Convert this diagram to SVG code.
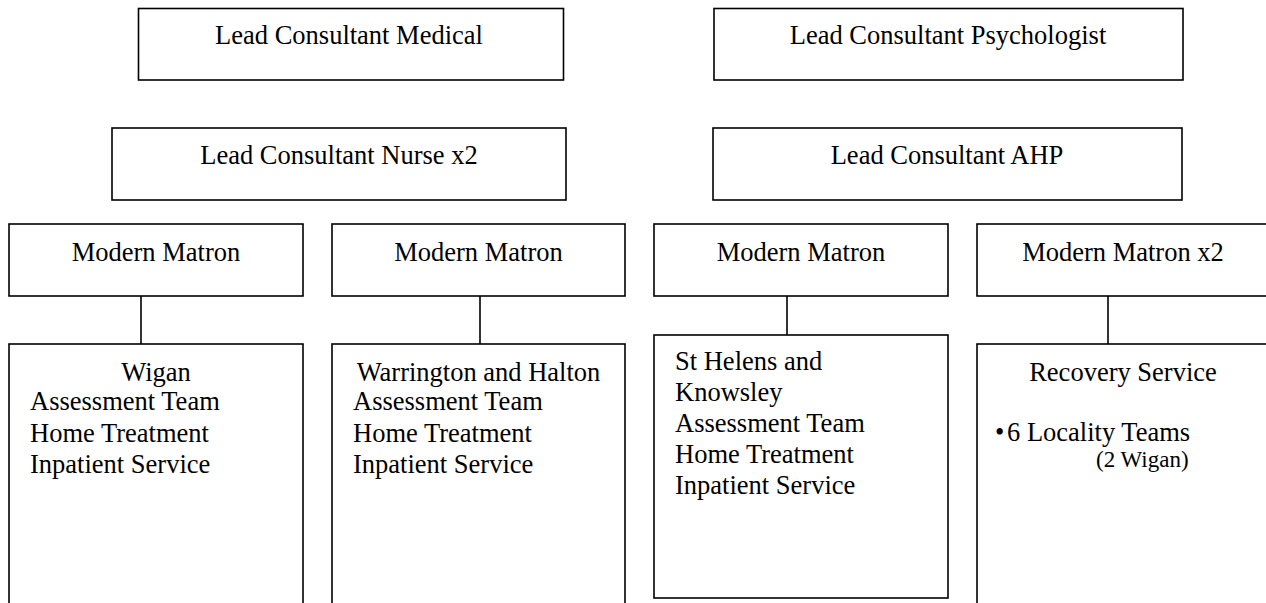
<svg xmlns="http://www.w3.org/2000/svg" width="1266" height="603" viewBox="0 0 1266 603">
<style>
.box{fill:#fff;stroke:#000;stroke-width:1.6}
.t{font-family:"Liberation Serif","Times New Roman",serif;font-size:26.5px;fill:#000}
.c{text-anchor:middle}
.s{font-size:23px}
.ln{stroke:#000;stroke-width:1.6;fill:none}
</style>
<rect width="1266" height="603" fill="#fff"/>
<g id="connectors">
<line class="ln" x1="141" y1="296" x2="141" y2="344"/>
<line class="ln" x1="480" y1="296" x2="480" y2="344"/>
<line class="ln" x1="787" y1="296" x2="787" y2="335"/>
<line class="ln" x1="1108" y1="296" x2="1108" y2="344"/>
</g>
<g id="lead-medical">
<rect class="box" x="138.5" y="8.5" width="425" height="71.5"/>
<text class="t c" x="349" y="44">Lead Consultant Medical</text>
</g>
<g id="lead-psychologist">
<rect class="box" x="714" y="8.5" width="469" height="71.5"/>
<text class="t c" x="948" y="44">Lead Consultant Psychologist</text>
</g>
<g id="lead-nurse">
<rect class="box" x="112" y="128" width="454" height="72"/>
<text class="t c" x="339" y="164">Lead Consultant Nurse x2</text>
</g>
<g id="lead-ahp">
<rect class="box" x="713" y="128" width="469" height="72"/>
<text class="t c" x="947" y="164">Lead Consultant AHP</text>
</g>
<g id="matron-1">
<rect class="box" x="9" y="224" width="294" height="72"/>
<text class="t c" x="156" y="261">Modern Matron</text>
</g>
<g id="matron-2">
<rect class="box" x="332" y="224" width="293" height="72"/>
<text class="t c" x="478.5" y="261">Modern Matron</text>
</g>
<g id="matron-3">
<rect class="box" x="654" y="224" width="294" height="72"/>
<text class="t c" x="801" y="261">Modern Matron</text>
</g>
<g id="matron-4">
<rect class="box" x="977" y="224" width="292" height="72"/>
<text class="t c" x="1123" y="261">Modern Matron x2</text>
</g>
<g id="wigan">
<rect class="box" x="9" y="344" width="294" height="270"/>
<text class="t c" x="156" y="381">Wigan</text>
<text class="t" x="30" y="410">Assessment Team</text>
<text class="t" x="30" y="442">Home Treatment</text>
<text class="t" x="30" y="473">Inpatient Service</text>
</g>
<g id="warrington">
<rect class="box" x="332" y="344" width="293" height="270"/>
<text class="t c" x="478.5" y="381">Warrington and Halton</text>
<text class="t" x="353" y="410">Assessment Team</text>
<text class="t" x="353" y="442">Home Treatment</text>
<text class="t" x="353" y="473">Inpatient Service</text>
</g>
<g id="st-helens">
<rect class="box" x="654" y="335" width="294" height="263"/>
<text class="t" x="675" y="370">St Helens and</text>
<text class="t" x="675" y="401">Knowsley</text>
<text class="t" x="675" y="432">Assessment Team</text>
<text class="t" x="675" y="463">Home Treatment</text>
<text class="t" x="675" y="494">Inpatient Service</text>
</g>
<g id="recovery">
<rect class="box" x="977" y="344" width="292" height="270"/>
<text class="t c" x="1123" y="381">Recovery Service</text>
<text class="t" x="995" y="441">•</text>
<text class="t" x="1007" y="441">6 Locality Teams</text>
<text class="t s" x="1096" y="467">(2 Wigan)</text>
</g>
</svg>
